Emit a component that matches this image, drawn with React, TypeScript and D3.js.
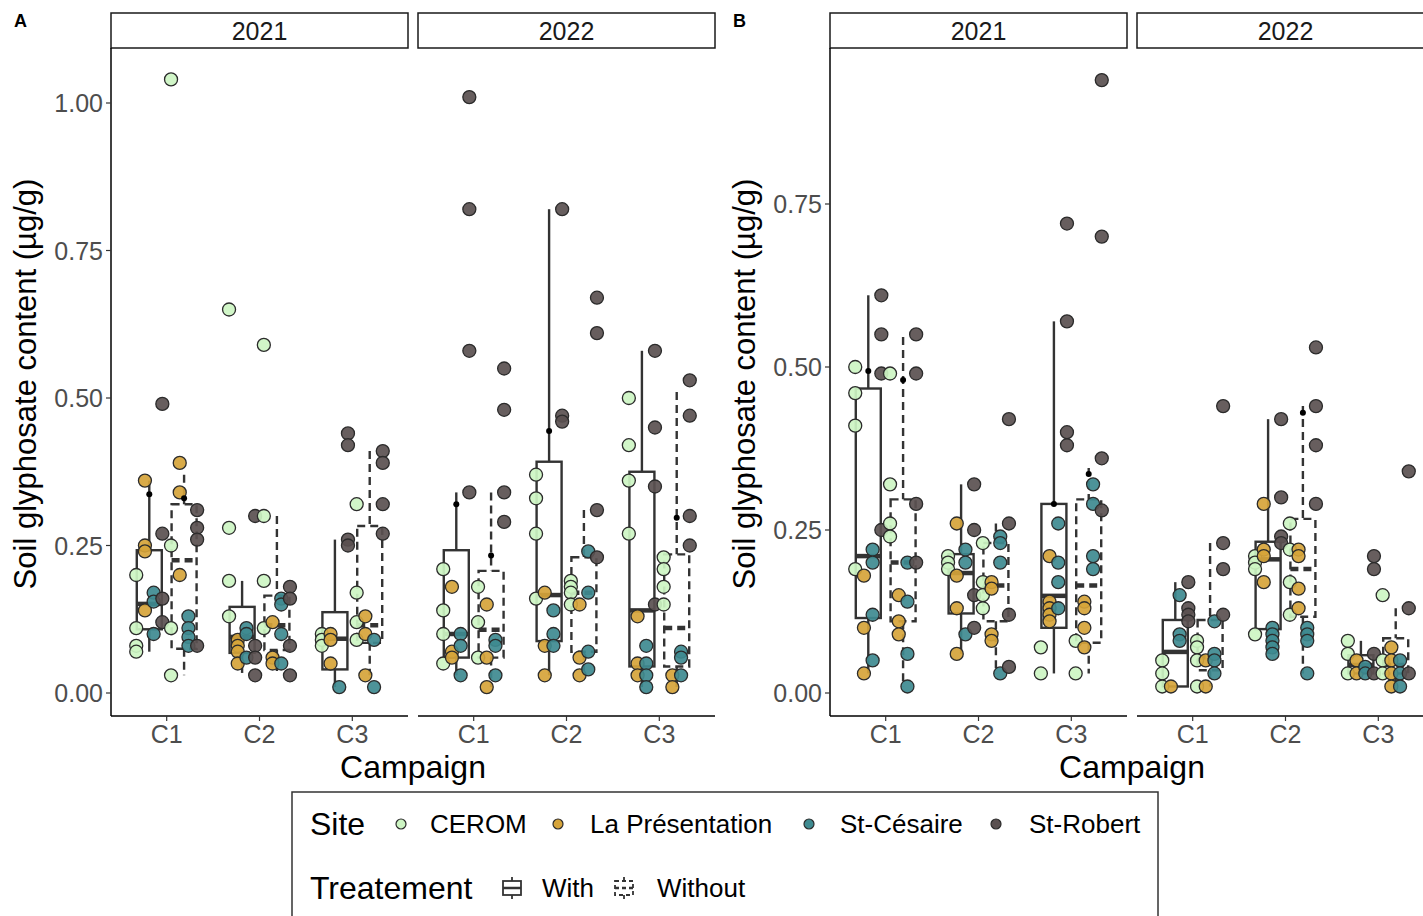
import React, { useEffect, useRef } from 'react';
import * as d3 from 'd3';

const sites = ['CEROM', 'La Présentation', 'St-Césaire', 'St-Robert'];
const siteColors = ['#cdf5c3', '#d6a43a', '#3e8a90', '#5a5050'];
const years = ['2021', '2022'];
const campaigns = ['C1', 'C2', 'C3'];
const treatments = ['With', 'Without'];
const ticksA = [0, 0.25, 0.5, 0.75, 1];
const ticksB = [0, 0.25, 0.5, 0.75];

// points per campaign, then per site (CEROM, La Présentation, St-Césaire, St-Robert)
const ptsA2021With = [
    [[0.20, 0.11, 0.08, 0.07], [0.36, 0.25, 0.24, 0.14], [0.17, 0.155, 0.10], [0.49, 0.27, 0.16, 0.12]],
    [[0.65, 0.28, 0.19, 0.13], [0.09, 0.08, 0.07, 0.05], [0.11, 0.10, 0.06], [0.30, 0.08, 0.06, 0.03]],
    [[0.10, 0.09, 0.08], [0.10, 0.09, 0.05], [0.01], [0.44, 0.42, 0.26, 0.25]],
];
const ptsA2021Without = [
    [[1.04, 0.25, 0.11, 0.03], [0.39, 0.34, 0.20], [0.13, 0.11, 0.095, 0.08], [0.31, 0.28, 0.26, 0.08]],
    [[0.59, 0.30, 0.19, 0.11], [0.12, 0.06, 0.05], [0.16, 0.15, 0.10, 0.05], [0.18, 0.16, 0.08, 0.03]],
    [[0.32, 0.17, 0.12, 0.09], [0.13, 0.10, 0.03], [0.09, 0.01], [0.41, 0.39, 0.32, 0.27]],
];
const ptsA2022With = [
    [[0.21, 0.14, 0.10, 0.05], [0.18, 0.07, 0.06], [0.10, 0.08, 0.03], [1.01, 0.82, 0.58, 0.34]],
    [[0.37, 0.33, 0.27, 0.16], [0.17, 0.08, 0.03], [0.14, 0.10, 0.08], [0.82, 0.47, 0.46]],
    [[0.50, 0.42, 0.36, 0.27], [0.13, 0.05, 0.03], [0.08, 0.05, 0.03, 0.01], [0.58, 0.45, 0.35, 0.15]],
];
const ptsA2022Without = [
    [[0.18, 0.12, 0.06], [0.15, 0.06, 0.01], [0.09, 0.08, 0.03], [0.55, 0.48, 0.34, 0.29]],
    [[0.19, 0.18, 0.17, 0.15], [0.15, 0.06, 0.03], [0.24, 0.17, 0.07, 0.04], [0.67, 0.61, 0.31, 0.23]],
    [[0.23, 0.21, 0.18, 0.15], [0.03, 0.01], [0.07, 0.06, 0.03], [0.53, 0.47, 0.30, 0.25]],
];
const ptsB2021With = [
    [[0.50, 0.46, 0.41, 0.19], [0.18, 0.10, 0.03], [0.22, 0.20, 0.12, 0.05], [0.61, 0.55, 0.49, 0.25]],
    [[0.21, 0.20, 0.19], [0.26, 0.18, 0.13, 0.06], [0.22, 0.20, 0.09], [0.32, 0.25, 0.15, 0.10]],
    [[0.07, 0.03], [0.21, 0.14, 0.13, 0.12, 0.11], [0.26, 0.20, 0.17, 0.13], [0.72, 0.57, 0.40, 0.38]],
];
const ptsB2021Without = [
    [[0.49, 0.32, 0.26, 0.24], [0.15, 0.11, 0.09], [0.20, 0.14, 0.06, 0.01], [0.55, 0.49, 0.29, 0.20]],
    [[0.23, 0.17, 0.15, 0.13], [0.17, 0.16, 0.09, 0.08], [0.24, 0.23, 0.20, 0.03], [0.42, 0.26, 0.12, 0.04]],
    [[0.08, 0.03], [0.14, 0.13, 0.10, 0.07], [0.32, 0.29, 0.21, 0.19], [0.94, 0.70, 0.36, 0.28]],
];
const ptsB2022With = [
    [[0.05, 0.03, 0.01], [0.01], [0.15, 0.09, 0.08], [0.17, 0.13, 0.12, 0.11]],
    [[0.21, 0.20, 0.19, 0.09], [0.29, 0.22, 0.21, 0.17], [0.10, 0.09, 0.08, 0.07, 0.06], [0.42, 0.30, 0.24, 0.23]],
    [[0.08, 0.06, 0.03], [0.05, 0.03], [0.04, 0.03], [0.21, 0.19, 0.06, 0.03]],
];
const ptsB2022Without = [
    [[0.08, 0.07, 0.05, 0.01], [0.05, 0.01], [0.11, 0.06, 0.05, 0.03], [0.44, 0.23, 0.19, 0.12]],
    [[0.26, 0.22, 0.17, 0.12], [0.22, 0.21, 0.16, 0.13], [0.10, 0.09, 0.08, 0.03], [0.53, 0.44, 0.38, 0.29]],
    [[0.15, 0.05, 0.03], [0.07, 0.05, 0.03, 0.01], [0.05, 0.03, 0.01], [0.34, 0.13, 0.03]],
];

// box stats per campaign: [lower whisker, q1, median, q3, upper whisker, mean]
const boxA2021With = [[0.07, 0.108, 0.151, 0.242, 0.36, 0.337], [0.034, 0.068, 0.095, 0.146, 0.19, null], [0.01, 0.04, 0.092, 0.137, 0.26, null]];
const boxA2021Without = [[0.03, 0.075, 0.225, 0.32, 0.37, 0.33], [0.03, 0.073, 0.115, 0.165, 0.30, null], [0.03, 0.085, 0.115, 0.283, 0.41, null]];
const boxA2022With = [[0.03, 0.06, 0.10, 0.242, 0.34, 0.32], [0.03, 0.088, 0.166, 0.392, 0.82, 0.444], [0.01, 0.045, 0.14, 0.375, 0.58, null]];
const boxA2022Without = [[0.01, 0.06, 0.107, 0.207, 0.34, 0.233], [0.03, 0.07, 0.17, 0.23, 0.31, null], [0.01, 0.045, 0.11, 0.235, 0.51, 0.297]];
const boxB2021With = [[0.03, 0.115, 0.21, 0.467, 0.61, 0.494], [0.06, 0.122, 0.184, 0.213, 0.32, null], [0.03, 0.10, 0.149, 0.29, 0.57, 0.29]];
const boxB2021Without = [[0.01, 0.11, 0.20, 0.297, 0.546, 0.48], [0.03, 0.11, 0.165, 0.23, 0.26, null], [0.03, 0.077, 0.165, 0.297, 0.345, 0.336]];
const boxB2022With = [[0.01, 0.01, 0.063, 0.112, 0.17, null], [0.06, 0.098, 0.205, 0.232, 0.42, null], [0.03, 0.03, 0.043, 0.058, 0.08, null]];
const boxB2022Without = [[0.01, 0.035, 0.055, 0.112, 0.23, null], [0.03, 0.117, 0.19, 0.267, 0.44, 0.43], [0.01, 0.03, 0.043, 0.084, 0.13, null]];

const FONT = '"Liberation Sans", Arial, Helvetica, sans-serif';
const LINE = '#333333';

const App: React.FC = () => {
    const svgRef = useRef<SVGSVGElement | null>(null);

    useEffect(() => {
        if (!svgRef.current) return;
        const svg = d3.select(svgRef.current);
        svg.selectAll('*').remove();

        const facetW = 297;
        const facetGap = 10;
        const plotTop = 48;
        const plotBottom = 716;

        const panels = [
            {
                label: 'A', left: 111, ticks: ticksA,
                y: d3.scaleLinear().domain([0, 1]).range([693, 103]),
                pts: [[ptsA2021With, ptsA2021Without], [ptsA2022With, ptsA2022Without]],
                box: [[boxA2021With, boxA2021Without], [boxA2022With, boxA2022Without]],
            },
            {
                label: 'B', left: 830, ticks: ticksB,
                y: d3.scaleLinear().domain([0, 0.75]).range([693, 204]),
                pts: [[ptsB2021With, ptsB2021Without], [ptsB2022With, ptsB2022Without]],
                box: [[boxB2021With, boxB2021Without], [boxB2022With, boxB2022Without]],
            },
        ];

        panels.forEach(p => {
            const g = svg.append('g');
            const y = p.y;

            // panel tag
            g.append('text')
                .attr('x', p.left - 97).attr('y', 27)
                .attr('font-family', FONT).attr('font-weight', 'bold').attr('font-size', 18)
                .text(p.label);

            years.forEach((yr, f) => {
                const fx = p.left + f * (facetW + facetGap);
                const x = d3.scalePoint<string>().domain(campaigns).range([fx, fx + facetW]).padding(0.6);
                const step = x.step();
                const dodge = step * 0.75;
                const slot = dodge / 8;
                const boxW = 25;

                // strip
                g.append('rect')
                    .attr('x', fx).attr('y', 13).attr('width', facetW).attr('height', plotTop - 13)
                    .attr('fill', 'white').attr('stroke', '#1a1a1a').attr('stroke-width', 1.5);
                g.append('text')
                    .attr('x', fx + facetW / 2).attr('y', 40)
                    .attr('text-anchor', 'middle')
                    .attr('font-family', FONT).attr('font-size', 25).attr('fill', '#1a1a1a')
                    .text(yr);

                // bottom axis line and ticks
                g.append('line')
                    .attr('x1', fx).attr('x2', fx + facetW).attr('y1', plotBottom).attr('y2', plotBottom)
                    .attr('stroke', 'black').attr('stroke-width', 1.5);
                campaigns.forEach(c => {
                    const cx = x(c) as number;
                    g.append('line')
                        .attr('x1', cx).attr('x2', cx).attr('y1', plotBottom).attr('y2', plotBottom + 5)
                        .attr('stroke', '#333').attr('stroke-width', 1.2);
                    g.append('text')
                        .attr('x', cx).attr('y', 743)
                        .attr('text-anchor', 'middle')
                        .attr('font-family', FONT).attr('font-size', 25).attr('fill', '#4d4d4d')
                        .text(c);
                });

                // boxes
                treatments.forEach((t, ti) => {
                    const stats = p.box[f][ti];
                    const dash = ti === 1 ? '8,5' : null;
                    campaigns.forEach((c, ci) => {
                        const [lo, q1, med, q3, hi] = stats[ci] as number[];
                        const bx = (x(c) as number) + (ti - 0.5) * dodge / 2;
                        const bg = g.append('g')
                            .attr('fill', 'none').attr('stroke', LINE).attr('stroke-width', 2.4)
                            .attr('stroke-dasharray', dash);
                        bg.append('line').attr('x1', bx).attr('x2', bx).attr('y1', y(hi)).attr('y2', y(q3));
                        bg.append('line').attr('x1', bx).attr('x2', bx).attr('y1', y(q1)).attr('y2', y(lo));
                        bg.append('rect')
                            .attr('x', bx - boxW / 2).attr('y', y(q3))
                            .attr('width', boxW).attr('height', y(q1) - y(q3));
                        bg.append('line')
                            .attr('x1', bx - boxW / 2).attr('x2', bx + boxW / 2).attr('y1', y(med)).attr('y2', y(med))
                            .attr('stroke-width', 4.5);
                    });
                });

                // points
                treatments.forEach((t, ti) => {
                    const data = p.pts[f][ti];
                    campaigns.forEach((c, ci) => {
                        sites.forEach((s, si) => {
                            const px = (x(c) as number) - dodge / 2 + slot * (ti * 4 + si + 0.5);
                            g.selectAll(null)
                                .data(data[ci][si])
                                .enter()
                                .append('circle')
                                .attr('cx', px)
                                .attr('cy', d => y(d))
                                .attr('r', 6.5)
                                .attr('fill', siteColors[si])
                                .attr('fill-opacity', 0.92)
                                .attr('stroke', '#2b2b2b')
                                .attr('stroke-width', 1.3);
                        });
                    });
                });

                // mean dots
                treatments.forEach((t, ti) => {
                    const stats = p.box[f][ti];
                    campaigns.forEach((c, ci) => {
                        const m = stats[ci][5];
                        if (m == null) return;
                        const bx = (x(c) as number) + (ti - 0.5) * dodge / 2;
                        g.append('circle').attr('cx', bx).attr('cy', y(m)).attr('r', 3).attr('fill', 'black');
                    });
                });
            });

            // left axis
            g.append('line')
                .attr('x1', p.left).attr('x2', p.left).attr('y1', plotTop).attr('y2', plotBottom)
                .attr('stroke', 'black').attr('stroke-width', 1.5);
            p.ticks.forEach(tv => {
                g.append('line')
                    .attr('x1', p.left - 5).attr('x2', p.left).attr('y1', y(tv)).attr('y2', y(tv))
                    .attr('stroke', '#333').attr('stroke-width', 1.2);
                g.append('text')
                    .attr('x', p.left - 8).attr('y', y(tv)).attr('dy', '0.36em')
                    .attr('text-anchor', 'end')
                    .attr('font-family', FONT).attr('font-size', 25).attr('fill', '#4d4d4d')
                    .text(d3.format('.2f')(tv));
            });

            // axis titles
            g.append('text')
                .attr('x', p.left + facetW + facetGap / 2).attr('y', 778)
                .attr('text-anchor', 'middle')
                .attr('font-family', FONT).attr('font-size', 32).attr('fill', 'black')
                .text('Campaign');
            g.append('text')
                .attr('transform', `translate(${p.left - 75},${(plotTop + plotBottom) / 2 + 2}) rotate(-90)`)
                .attr('text-anchor', 'middle')
                .attr('font-family', FONT).attr('font-size', 31).attr('fill', 'black')
                .text('Soil glyphosate content (µg/g)');
        });

        // legend
        const lg = svg.append('g').attr('font-family', FONT);
        lg.append('rect')
            .attr('x', 292).attr('y', 792).attr('width', 866).attr('height', 150)
            .attr('fill', 'white').attr('stroke', '#333').attr('stroke-width', 1.5);
        lg.append('text').attr('x', 310).attr('y', 835).attr('font-size', 32).text('Site');
        const siteKeyX = [401, 558, 809, 996];
        const siteTextX = [430, 590, 840, 1029];
        sites.forEach((s, i) => {
            lg.append('circle')
                .attr('cx', siteKeyX[i]).attr('cy', 824).attr('r', 5)
                .attr('fill', siteColors[i]).attr('stroke', '#2b2b2b').attr('stroke-width', 1.2);
            lg.append('text').attr('x', siteTextX[i]).attr('y', 833).attr('font-size', 26).text(s);
        });
        lg.append('text').attr('x', 310).attr('y', 899).attr('font-size', 32).text('Treatement');
        const treatKeyX = [512, 624];
        const treatTextX = [542, 657];
        treatments.forEach((t, i) => {
            const k = lg.append('g')
                .attr('fill', 'none').attr('stroke', LINE).attr('stroke-width', 1.8)
                .attr('stroke-dasharray', i === 1 ? '4,3' : null);
            const cx = treatKeyX[i];
            k.append('line').attr('x1', cx).attr('x2', cx).attr('y1', 877).attr('y2', 881);
            k.append('line').attr('x1', cx).attr('x2', cx).attr('y1', 895).attr('y2', 899);
            k.append('rect').attr('x', cx - 9).attr('y', 881).attr('width', 18).attr('height', 14);
            k.append('line').attr('x1', cx - 9).attr('x2', cx + 9).attr('y1', 888).attr('y2', 888).attr('stroke-width', 2.5);
            lg.append('text').attr('x', treatTextX[i]).attr('y', 897).attr('font-size', 26).text(t);
        });
    }, []);

    return (
        <svg
            ref={svgRef}
            width={1423}
            height={916}
            style={{ position: 'absolute', left: 0, top: 0, display: 'block', background: 'white' }}
        />
    );
};

export default App;
